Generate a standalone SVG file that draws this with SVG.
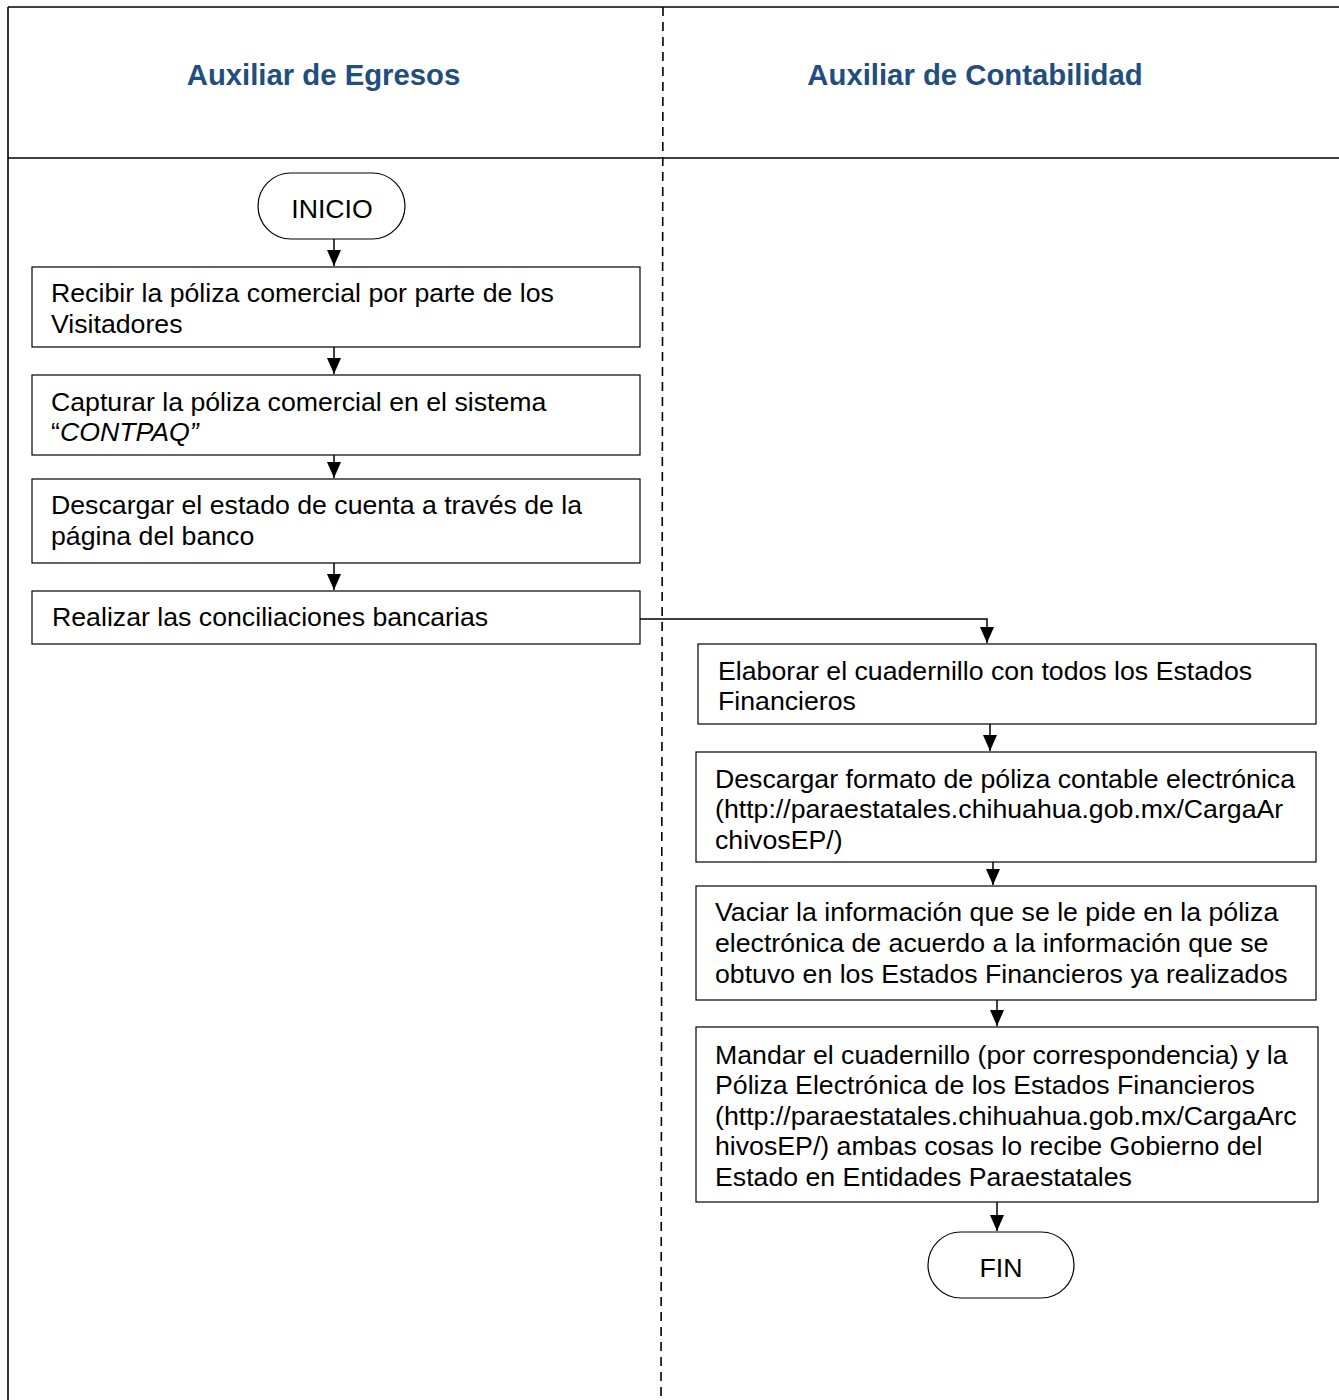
<svg xmlns="http://www.w3.org/2000/svg" width="1339" height="1400" viewBox="0 0 1339 1400">
  <style>
    .lane { fill: none; stroke: #000; stroke-width: 1.6; }
    .divider { fill: none; stroke: #000; stroke-width: 1.6; stroke-dasharray: 9 6; }
    .head { font-family: "Liberation Sans", Arial, sans-serif; font-size: 29.3px; font-weight: bold; fill: #1F4E7F; text-anchor: middle; }
    .box { fill: #fff; stroke: #000; stroke-width: 1.2; }
    .txt { font-family: "Liberation Sans", Arial, sans-serif; font-size: 26.7px; fill: #000; }
    .ctr { text-anchor: middle; }
    .conn { fill: none; stroke: #000; stroke-width: 1.5; marker-end: url(#arrow); }
  </style>
  <defs>
    <marker id="arrow" markerUnits="userSpaceOnUse" markerWidth="18" markerHeight="18" viewBox="0 0 18 18" refX="16" refY="9" orient="auto">
      <path d="M0,2 L16,9 L0,16 Z" fill="#000"/>
    </marker>
  </defs>

  <rect width="1339" height="1400" fill="#fff"/>

  <!-- swimlane frame -->
  <g id="lanes">
    <line class="lane" x1="8" y1="7" x2="1339" y2="7"/>
    <line class="lane" x1="8" y1="7" x2="8" y2="1400"/>
    <line class="lane" x1="8" y1="158" x2="1339" y2="158"/>
    <line class="divider" x1="663" y1="7" x2="661" y2="1400"/>
    <text class="head" x="323.5" y="85">Auxiliar de Egresos</text>
    <text class="head" x="975" y="85">Auxiliar de Contabilidad</text>
  </g>

  <!-- connectors -->
  <g id="connectors">
    <line class="conn" x1="334" y1="239" x2="334" y2="266"/>
    <line class="conn" x1="334" y1="347" x2="334" y2="374"/>
    <line class="conn" x1="334" y1="455" x2="334" y2="478"/>
    <line class="conn" x1="334" y1="563" x2="334" y2="590"/>
    <polyline class="conn" points="640,619 987,619 987,643"/>
    <line class="conn" x1="990" y1="724" x2="990" y2="751"/>
    <line class="conn" x1="993" y1="862" x2="993" y2="885"/>
    <line class="conn" x1="997" y1="1000" x2="997" y2="1026"/>
    <line class="conn" x1="997" y1="1202" x2="997" y2="1231"/>
  </g>

  <g id="inicio">
    <rect class="box" x="258" y="173" width="147" height="66" rx="33" ry="33"/>
    <text class="txt ctr" x="332" y="218">INICIO</text>
  </g>

  <g id="recibir">
    <rect class="box" x="32" y="267" width="608" height="80"/>
    <text class="txt" x="51" y="302">Recibir la póliza comercial por parte de los</text>
    <text class="txt" x="51" y="333">Visitadores</text>
  </g>

  <g id="capturar">
    <rect class="box" x="32" y="375" width="608" height="80"/>
    <text class="txt" x="51" y="411">Capturar la póliza comercial en el sistema</text>
    <text class="txt" x="51" y="441">“<tspan font-style="italic">CONTPAQ”</tspan></text>
  </g>

  <g id="descargar-estado">
    <rect class="box" x="32" y="479" width="608" height="84"/>
    <text class="txt" x="51" y="514">Descargar el estado de cuenta a través de la</text>
    <text class="txt" x="51" y="545">página del banco</text>
  </g>

  <g id="conciliaciones">
    <rect class="box" x="32" y="591" width="608" height="53"/>
    <text class="txt" x="52" y="626">Realizar las conciliaciones bancarias</text>
  </g>

  <g id="cuadernillo">
    <rect class="box" x="698" y="644" width="618" height="80"/>
    <text class="txt" x="718" y="680">Elaborar el cuadernillo con todos los Estados</text>
    <text class="txt" x="718" y="710">Financieros</text>
  </g>

  <g id="descargar-formato">
    <rect class="box" x="696" y="752" width="620" height="110"/>
    <text class="txt" x="715" y="788">Descargar formato de póliza contable electrónica</text>
    <text class="txt" x="715" y="818">(http://paraestatales.chihuahua.gob.mx/CargaAr</text>
    <text class="txt" x="715" y="849">chivosEP/)</text>
  </g>

  <g id="vaciar">
    <rect class="box" x="696" y="886" width="620" height="114"/>
    <text class="txt" x="715" y="921">Vaciar la información que se le pide en la póliza</text>
    <text class="txt" x="715" y="952">electrónica de acuerdo a la información que se</text>
    <text class="txt" x="715" y="983">obtuvo en los Estados Financieros ya realizados</text>
  </g>

  <g id="mandar">
    <rect class="box" x="696" y="1027" width="622" height="175"/>
    <text class="txt" x="715" y="1064">Mandar el cuadernillo (por correspondencia) y la</text>
    <text class="txt" x="715" y="1094">Póliza Electrónica de los Estados Financieros</text>
    <text class="txt" x="715" y="1125">(http://paraestatales.chihuahua.gob.mx/CargaArc</text>
    <text class="txt" x="715" y="1155">hivosEP/) ambas cosas lo recibe Gobierno del</text>
    <text class="txt" x="715" y="1186">Estado en Entidades Paraestatales</text>
  </g>

  <g id="fin">
    <rect class="box" x="928" y="1232" width="146" height="66" rx="33" ry="33"/>
    <text class="txt ctr" x="1001" y="1277">FIN</text>
  </g>
</svg>
